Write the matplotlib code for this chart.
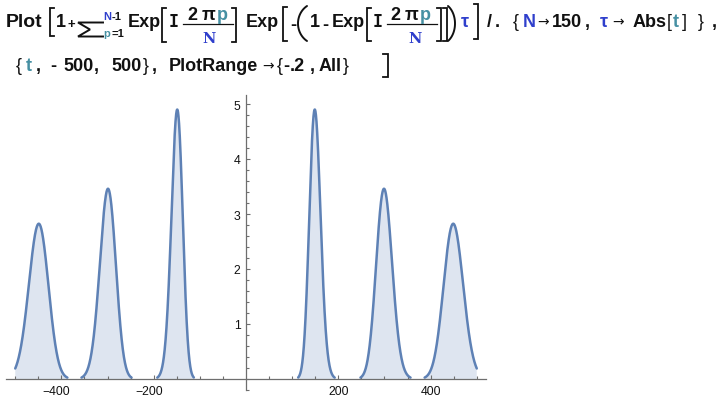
import matplotlib
matplotlib.use("Agg")
import matplotlib.pyplot as plt
import numpy as np
from matplotlib.lines import Line2D
from matplotlib.transforms import Affine2D, ScaledTranslation

# Values of the expression in the input cell
n_terms = 150
t_range = [-500, 500]
y_floor = -0.2
# Mathematica leaves out the samples that come back complex, which is what
# happens near zero: the curve stops just above the axis there
gap_level = 0.025

x_major = [-400, -200, 200, 400]
x_major_labels = ["\u2212400", "\u2212200", "200", "400"]
x_minor = [v for v in range(-500, 501, 50) if v != 0]
y_major = [1, 2, 3, 4, 5]
y_minor = [round(0.2 * k, 1) for k in range(-1, 26)]

line_color = "#5E81B5"
axis_color = "#6e6e6e"
ink = "#111111"
sym_blue = "#2f3fcc"
loc_teal = "#4690a3"

# 1 + Sum[Exp[I 2 Pi p/N] Exp[-(1 - Exp[I 2 Pi p/N]) tau], {p, 1, N-1}], tau = |t|
t = np.linspace(t_range[0], t_range[1], 4001)
tau = np.abs(t)
w = np.exp(2j * np.pi * np.arange(1, n_terms) / n_terms)
vals = 1 + (w[None, :] * np.exp(-(1 - w[None, :]) * tau[:, None])).sum(axis=1)
f = vals.real
shown = f > gap_level
f_shown = np.where(shown, f, np.nan)

fig = plt.figure(figsize=(7.23, 4.06), dpi=100)
ax = fig.add_axes([6 / 723, 15 / 406, 480 / 723, 294.8 / 406])

ax.fill_between(t, 0, np.nan_to_num(f_shown), where=shown, color=line_color,
                alpha=0.2, linewidth=0)
ax.plot(t, f_shown, color=line_color, lw=1.8, solid_capstyle="round")

ax.set_xlim(-520, 520)
ax.set_ylim(y_floor, 5.16)
for s in ["top", "right"]:
    ax.spines[s].set_visible(False)
for s in ["left", "bottom"]:
    ax.spines[s].set_position(("data", 0))
    ax.spines[s].set_color(axis_color)
    ax.spines[s].set_linewidth(0.9)

ax.set_xticks(x_major)
ax.set_xticklabels(x_major_labels)
ax.set_xticks(x_minor, minor=True)
ax.set_yticks(y_major)
ax.set_yticklabels([str(v) for v in y_major])
ax.set_yticks(y_minor, minor=True)
ax.tick_params(which="both", direction="in", color=axis_color, width=0.8,
               labelsize=8.8, labelcolor=ink, pad=4)
ax.tick_params(which="major", length=3.1)
ax.tick_params(which="minor", length=1.9)
for lab in ax.get_xticklabels() + ax.get_yticklabels():
    lab.set_family("Liberation Sans")
# Mathematica lets the minus sign hang to the left of the tick
shift = ScaledTranslation(-5 / 100, 0, fig.dpi_scale_trans)
for lab in ax.get_xticklabels():
    if lab.get_text().startswith("\u2212"):
        lab.set_transform(lab.get_transform() + shift)

# ---- the input cell, drawn in pixel coordinates from the top left ----
px = Affine2D().scale(1 / 100, -1 / 100).translate(0, 4.06) + fig.dpi_scale_trans
code_font = ["Liberation Sans", "DejaVu Sans"]


def put(x, y, s, color=ink, size=13, family=code_font, weight="bold"):
    fig.text(x, y, s, transform=px, color=color, fontsize=size, family=family,
             weight=weight, va="baseline", ha="left")


def arrow(x, y):
    put(x, y - 1, "\u2192", size=10, family="DejaVu Sans", weight="normal")


def bracket(x0, x1, top, bot, side):
    xs = [x1, x0, x0, x1] if side == "[" else [x0, x1, x1, x0]
    fig.add_artist(Line2D(xs, [top, top, bot, bot], transform=px, color=ink,
                          lw=1.3, solid_joinstyle="miter"))


def paren(x_out, x_in, top, bot, side):
    a = np.radians(58)
    rx = abs(x_in - x_out) / (1 - np.cos(a))
    ry = (bot - top) / 2 / np.sin(a)
    yc = (top + bot) / 2
    th = np.linspace(-a, a, 40)
    if side == "(":
        xs = x_out + rx - rx * np.cos(th)
    else:
        xs = x_out - rx + rx * np.cos(th)
    fig.add_artist(Line2D(xs, yc + ry * np.sin(th), transform=px, color=ink,
                          lw=1.4, solid_capstyle="round"))


def fraction(x_bar0, x_bar1, x_num, x_den):
    put(x_num[0], 20, "2")
    put(x_num[1], 20, "\u03c0")
    put(x_num[2], 20, "p", color=loc_teal)
    fig.add_artist(Line2D([x_bar0, x_bar1], [25, 25], transform=px, color=ink, lw=0.9))
    put(x_den, 43, "N", color=sym_blue, size=10.5, family="DejaVu Serif")


b1 = 27
put(6, b1, "Plot", size=14)
bracket(50, 54, 9, 37, "[")
put(56, b1, "1")
put(68, 28, "+", size=9.5)
fig.add_artist(Line2D([103, 78, 90, 78, 103], [23.5, 23.5, 30.5, 37.5, 37.5],
                      transform=px, color=ink, lw=1.4, solid_joinstyle="miter"))
put(103, 20, "N", color=sym_blue, size=8)
put(112, 20, "-1", size=8)
put(103, 37, "p", color=loc_teal, size=8)
put(111, 37, "=1", size=8)
put(128, b1, "Exp")
bracket(162, 166, 9, 43, "[")
put(169, b1, "I", size=12, family="DejaVu Sans Mono")
fraction(183, 233, [187, 202, 217], 202)
bracket(232, 236, 9, 43, "]")
put(246, b1, "Exp")
bracket(283, 287, 8, 42, "[")
put(290, 30, "-")
paren(298, 307, 7, 42, "(")
put(310, b1, "1")
put(322, 30, "-")
put(332, b1, "Exp")
bracket(367, 371, 9, 42, "[")
put(373, b1, "I", size=12, family="DejaVu Sans Mono")
fraction(387, 437, [390, 405, 420], 408)
bracket(437, 441, 9, 42, "]")
bracket(443, 447, 9, 42, "]")
paren(455, 448, 7, 42, ")")
put(461, b1, "\u03c4", color=sym_blue)
bracket(474, 478, 5, 40, "]")
put(487, b1, "/")
put(495, b1, ".")
put(513, b1, "{", weight="normal")
put(523, b1, "N", color=sym_blue)
arrow(537, b1)
put(552, b1, "150")
put(585, b1, ",")
put(600, b1, "\u03c4", color=sym_blue)
arrow(612, b1)
put(633, b1, "Abs")
put(667, b1, "[", weight="normal")
put(673, b1, "t", color=loc_teal)
put(682, b1, "]", weight="normal")
put(698, b1, "}", weight="normal")
put(712, b1, ",")

b2 = 71
put(16, b2, "{", weight="normal")
put(26, b2, "t", color=loc_teal)
put(36, b2, ",")
put(50, b2, "-")
put(63, b2, "500")
put(94, b2, ",")
put(111, b2, "500")
put(143, b2, "}", weight="normal")
put(152, b2, ",")
put(169, b2, "PlotRange")
arrow(262, b2)
put(277, b2, "{", weight="normal")
put(283, b2, "-")
put(290, b2, ".2")
put(310, b2, ",")
put(319, b2, "All")
put(343, b2, "}", weight="normal")
bracket(383, 388, 55, 78, "]")

fig.savefig("out.png", dpi=100)
